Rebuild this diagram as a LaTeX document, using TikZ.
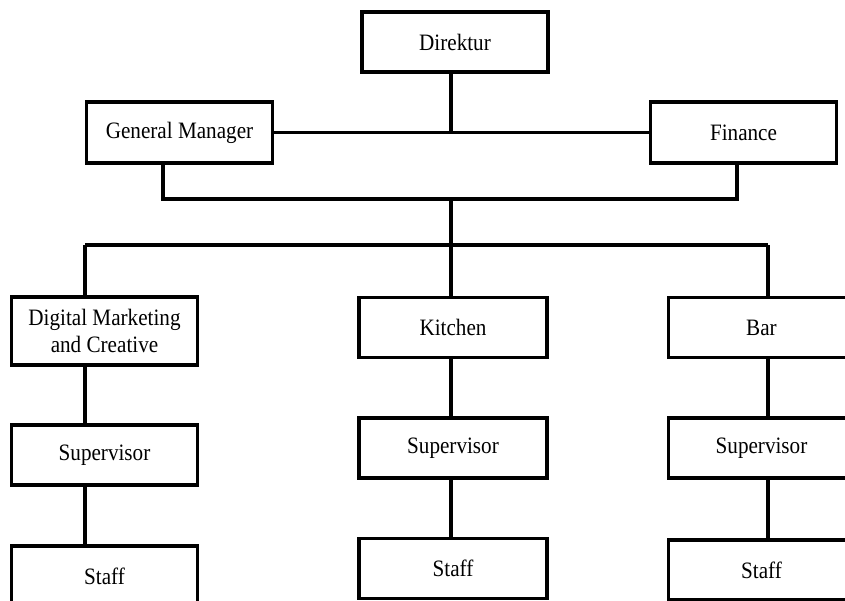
\documentclass[tikz,border=0pt]{standalone}
\usepackage{fontspec}
\setmainfont[FakeStretch=0.9]{Liberation Serif}
\begin{document}
\begin{tikzpicture}[x=1pt,y=-1pt,
  box/.style={draw=black,line width=3.6pt,fill=white,rectangle,inner sep=0pt,
    minimum width=186pt,minimum height=60pt,align=center,
    font=\fontsize{23.5}{27}\selectfont},
  link/.style={draw=black,line width=3.8pt}]
\useasboundingbox (0,0) rectangle (845,600);
\fill[white] (0,0) rectangle (845,600);
% nodes
\node[box] (dir) at (455,42) {Direktur};
\node[box,minimum height=61pt] (gm) at (179.5,132.5) {General Manager};
\node[box,minimum height=61pt] (fin) at (743.5,132.5) {Finance};
\node[box,minimum height=68pt] (dm) at (104.5,331) {Digital Marketing\\and Creative};
\node[box,minimum width=188pt] (kit) at (453,327.5) {Kitchen};
\node[box] (bar) at (761.5,327.5) {Bar};
\node[box] (dmsup) at (104.5,455) {Supervisor};
\node[box] (dmstaff) at (104.5,576) {Staff};
\node[box,minimum width=188pt] (kitsup) at (453,448) {Supervisor};
\node[box,minimum width=188pt] (kitstaff) at (453,568.5) {Staff};
\node[box] (barsup) at (761.5,448) {Supervisor};
\node[box] (barstaff) at (761.5,570) {Staff};
% junction points
\coordinate (mid) at (451,133);
\coordinate (b1) at (163,199);
\coordinate (b2) at (737,199);
\coordinate (t) at (451,199);
\coordinate (c1) at (85,245);
\coordinate (c2) at (451,245);
\coordinate (c3) at (768,245);
% connectors
\draw[link] (dir.south -| mid) -- (mid);
\draw[link] (gm.east) -- (fin.west);
\draw[link] (gm.south -| b1) -- (b1) -- (b2) -- (fin.south -| b2);
\draw[link] (t) -- (c2);
\draw[link] (c1) -- (c3);
\draw[link] (c1) -- (dm.north -| c1);
\draw[link] (c2) -- (kit.north -| c2);
\draw[link] (c3) -- (bar.north -| c3);
\draw[link] (dm.south -| c1) -- (dmsup.north -| c1);
\draw[link] (dmsup.south -| c1) -- (dmstaff.north -| c1);
\draw[link] (kit.south -| c2) -- (kitsup.north -| c2);
\draw[link] (kitsup.south -| c2) -- (kitstaff.north -| c2);
\draw[link] (bar.south -| c3) -- (barsup.north -| c3);
\draw[link] (barsup.south -| c3) -- (barstaff.north -| c3);
\end{tikzpicture}
\end{document}
